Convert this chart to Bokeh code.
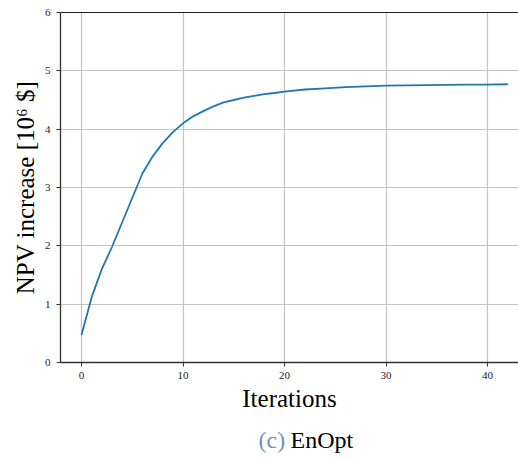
from bokeh.plotting import figure
from bokeh.layouts import column
from bokeh.models import LinearAxis, FixedTicker, Label, Range1d
from bokeh.embed import file_html
from bokeh.resources import INLINE

iterations = [0, 1, 2, 3, 4, 5, 6, 7, 8, 9, 10, 11, 12, 13, 14, 15, 16, 17, 18, 19, 20,
              22, 24, 26, 28, 30, 32, 34, 36, 38, 40, 42]
npv = [0.47, 1.12, 1.60, 1.98, 2.40, 2.82, 3.24, 3.53, 3.76, 3.95, 4.10, 4.22, 4.31,
       4.39, 4.46, 4.50, 4.54, 4.57, 4.60, 4.62, 4.645, 4.68, 4.70, 4.72, 4.735, 4.745,
       4.75, 4.755, 4.76, 4.762, 4.765, 4.77]
x_ticks = [0, 10, 20, 30, 40]
y_ticks = [0, 1, 2, 3, 4, 5, 6]
caption_tag = "(c)"
caption_text = "EnOpt"

FONT = "Liberation Serif"

p = figure(width=518, height=418, output_backend="svg", toolbar_location=None,
           x_range=Range1d(-2.07, 43.05), y_range=Range1d(0, 6),
           min_border_left=60, min_border_right=0, min_border_top=12, min_border_bottom=56)
p.outline_line_color = None
p.background_fill_color = "white"
p.border_fill_color = "white"

p.line(iterations, npv, line_color="#1f77b4", line_width=1.8)

for ax in (p.xaxis[0], p.yaxis[0]):
    ax.axis_line_color = "#333333"
    ax.axis_line_width = 1.3
    ax.major_tick_line_color = "#333333"
    ax.major_tick_out = 4
    ax.major_tick_in = 0
    ax.minor_tick_line_color = None
    ax.major_label_text_font = FONT
    ax.major_label_text_font_size = "11px"
    ax.major_label_text_color = "#222222"
    ax.axis_label_text_font = FONT
    ax.axis_label_text_font_size = "25px"
    ax.axis_label_text_font_style = "normal"
    ax.axis_label_text_color = "black"

p.xaxis.ticker = FixedTicker(ticks=x_ticks)
p.yaxis.ticker = FixedTicker(ticks=y_ticks)
p.xaxis.axis_label = "Iterations"
p.yaxis.axis_label = "NPV increase [10\u2076 $]"
p.xaxis.major_label_standoff = 5
p.yaxis.major_label_standoff = 6
p.xaxis.axis_label_standoff = 3
p.yaxis.axis_label_standoff = 3

top = LinearAxis(ticker=FixedTicker(ticks=[]), axis_line_color="#222222", axis_line_width=1.2,
                 major_tick_line_color=None, minor_tick_line_color=None,
                 major_label_text_font_size="0px")
p.add_layout(top, "above")

p.xgrid.grid_line_color = "#c4c4c4"
p.ygrid.grid_line_color = "#c4c4c4"
p.xgrid.grid_line_width = 1.2
p.ygrid.grid_line_width = 1.2

c = figure(width=518, height=42, output_backend="svg", toolbar_location=None,
           x_range=Range1d(0, 1), y_range=Range1d(0, 1),
           min_border_left=0, min_border_right=0, min_border_top=0, min_border_bottom=0)
c.axis.visible = False
c.grid.visible = False
c.outline_line_color = None
c.background_fill_color = "white"
c.border_fill_color = "white"

cap1 = Label(x=198, y=21, x_units="screen", y_units="screen", text=caption_tag,
             text_font=FONT, text_font_size="24px", text_color="#7394b3",
             text_baseline="middle")
cap2 = Label(x=230, y=21, x_units="screen", y_units="screen", text=caption_text,
             text_font=FONT, text_font_size="24px", text_color="black",
             text_baseline="middle")
c.add_layout(cap1)
c.add_layout(cap2)

layout = column(p, c, spacing=0)
open("out.html", "w").write(file_html(layout, INLINE))
